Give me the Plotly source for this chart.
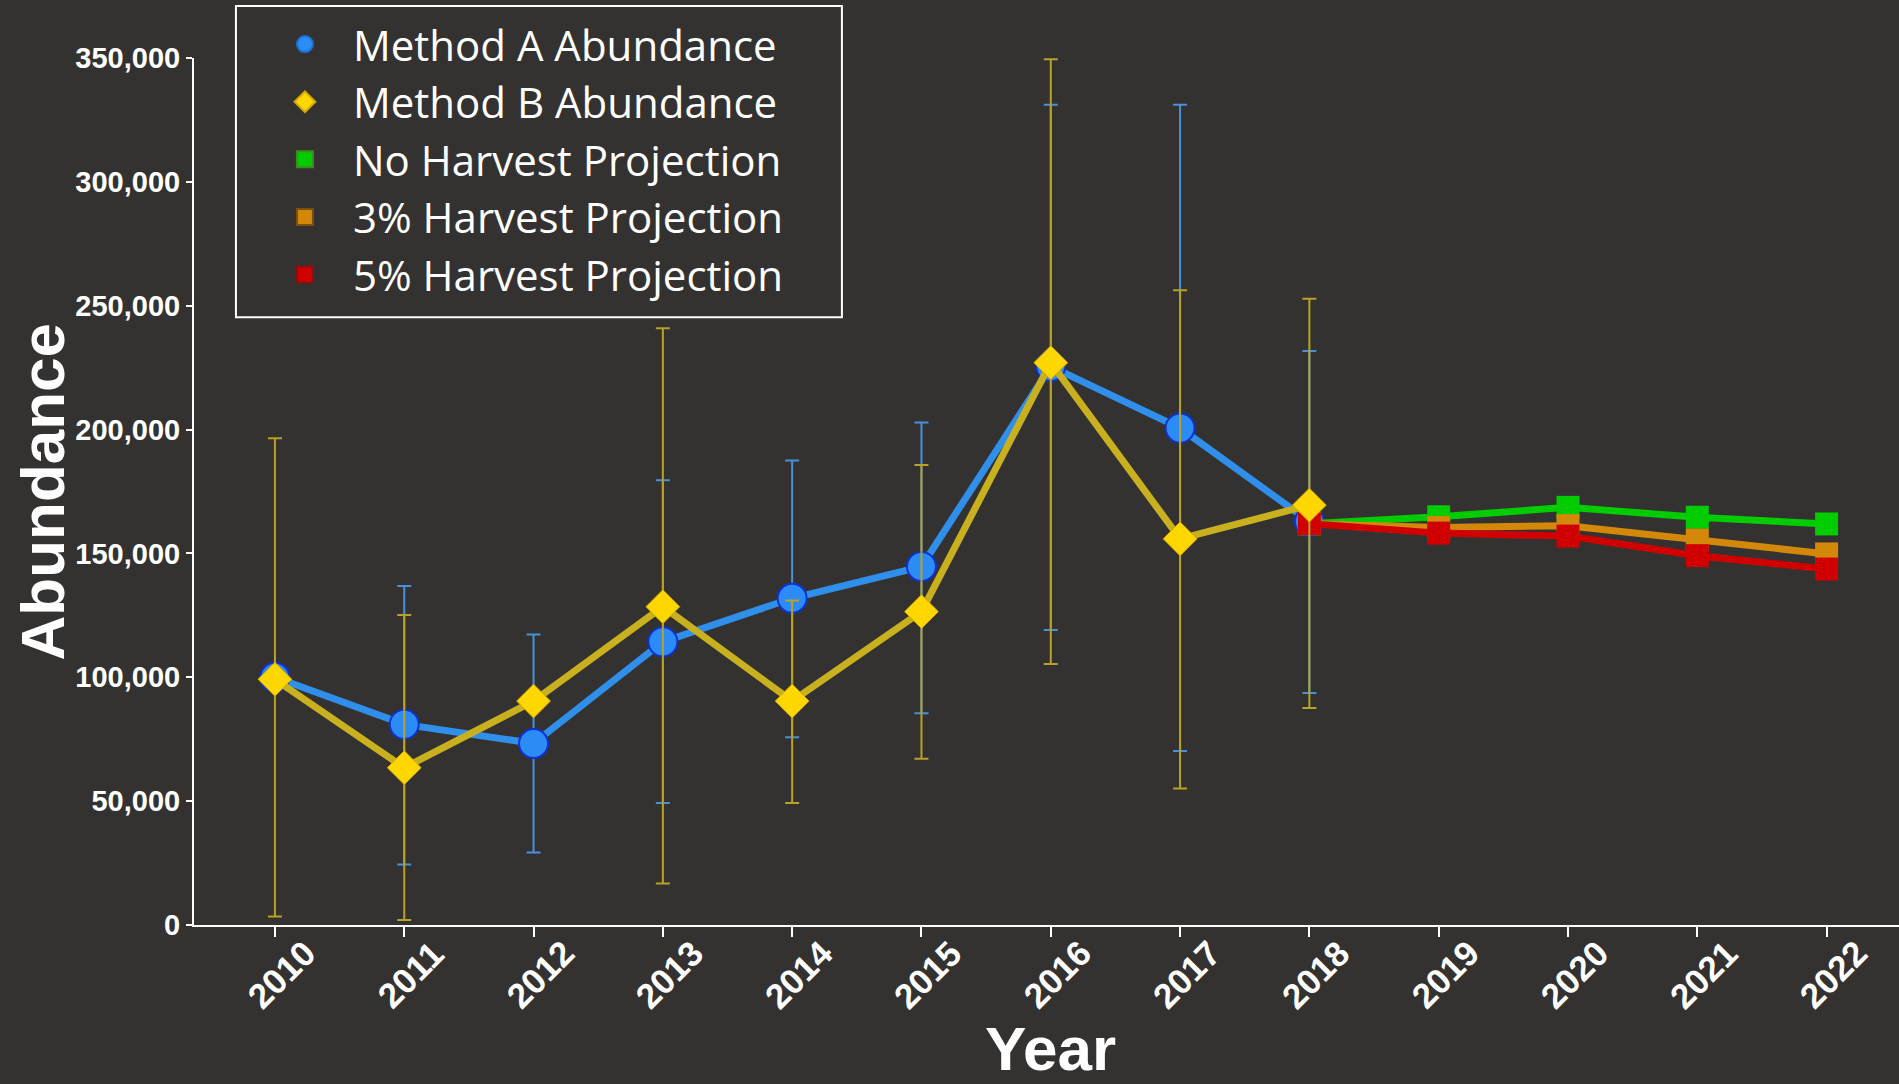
import plotly.graph_objects as go

# --- data ---
years = [2010, 2011, 2012, 2013, 2014, 2015, 2016, 2017, 2018]
proj_years = [2018, 2019, 2020, 2021, 2022]
all_years = years + proj_years[1:]

method_a = [100000, 81000, 73300, 114300, 131900, 144700, 225500, 200600, 162900]
method_a_upper = [100000, 136900, 117300, 179500, 187500, 202900, 331100, 331100, 231700]
method_a_lower = [100000, 24400, 29300, 49200, 75800, 85500, 119100, 70200, 93700]

method_b = [99200, 63500, 90400, 128500, 90400, 126500, 227000, 155900, 169500]
method_b_upper = [196500, 125100, 90400, 240900, 131000, 185700, 349500, 256200, 252800]
method_b_lower = [3400, 2000, 90400, 16800, 49200, 67100, 105400, 55100, 87600]

no_harvest = [162000, 164800, 168600, 164600, 161900]
harvest_3 = [162000, 160500, 161200, 155400, 149800]
harvest_5 = [162000, 158200, 157000, 149100, 143700]

y_ticks = [0, 50000, 100000, 150000, 200000, 250000, 300000, 350000]

BG = '#333231'
TICK_FONT = 'Liberation Sans, Arial, sans-serif'

fig = go.Figure()

# Method A (blue circles)
fig.add_trace(go.Scatter(
    x=years, y=method_a, mode='lines+markers', name='Method A Abundance',
    line=dict(color='#2F8FEA', width=7),
    marker=dict(symbol='circle', size=29, color='#2B8CF5', line=dict(color='#1030D0', width=2)),
    error_y=dict(type='data', symmetric=False,
                 array=[u - v for u, v in zip(method_a_upper, method_a)],
                 arrayminus=[v - l for v, l in zip(method_a, method_a_lower)],
                 color='#4A90D9', thickness=2, width=7),
    showlegend=False, cliponaxis=False,
))

# projections (squares)
proj = [
    ('No Harvest Projection', no_harvest, '#00CC00'),
    ('3% Harvest Projection', harvest_3, '#D4880A'),
    ('5% Harvest Projection', harvest_5, '#D00000'),
]
for name, vals, col in proj:
    fig.add_trace(go.Scatter(
        x=proj_years, y=vals, mode='lines+markers', name=name,
        line=dict(color=col, width=7),
        marker=dict(symbol='square', size=23, color=col),
        showlegend=False, cliponaxis=False,
    ))

# Method B (yellow diamonds) drawn on top
fig.add_trace(go.Scatter(
    x=years, y=method_b, mode='lines+markers', name='Method B Abundance',
    line=dict(color='#C9B01E', width=7),
    marker=dict(symbol='diamond', size=26, color='#FFD700', line=dict(color='#D4A800', width=1)),
    error_y=dict(type='data', symmetric=False,
                 array=[u - v for u, v in zip(method_b_upper, method_b)],
                 arrayminus=[v - l for v, l in zip(method_b, method_b_lower)],
                 color='#B8A228', thickness=2, width=7),
    showlegend=False, cliponaxis=False,
))

# legend entries (markers only, like the original)
legend_items = [
    ('Method A Abundance', 'circle', '#2B8CF5', '#1E70D0'),
    ('Method B Abundance', 'diamond', '#FFD700', '#D4A800'),
    ('No Harvest Projection', 'square', '#00CC00', '#3C8A20'),
    ('3% Harvest Projection', 'square', '#D4880A', '#7A5010'),
    ('5% Harvest Projection', 'square', '#D00000', '#8A1010'),
]
for name, sym, col, edge in legend_items:
    fig.add_trace(go.Scatter(
        x=[None], y=[None], mode='markers', name=name,
        marker=dict(symbol=sym, size=24, color=col, line=dict(color=edge, width=2)),
    ))

# rotated year labels, centred under each tick (as in the original)
year_labels = [
    dict(x=yr, y=0, xref='x', yref='y', text=f'<b>{yr}</b>', showarrow=False,
         textangle=-45, xanchor='center', yanchor='middle', xshift=6, yshift=-49,
         font=dict(size=35, color='white', family=TICK_FONT))
    for yr in all_years
]
x_title = dict(x=0.5, y=0, xref='paper', yref='paper', text='<b>Year</b>', showarrow=False,
               xanchor='center', yanchor='bottom', xshift=4, yshift=-160,
               font=dict(size=62, color='white', family=TICK_FONT))
y_title = dict(x=0, y=0.5, xref='paper', yref='paper', text='<b>Abundance</b>', showarrow=False,
               xanchor='center', yanchor='middle', xshift=-152, textangle=-90,
               font=dict(size=62, color='white', family=TICK_FONT))

fig.update_layout(
    width=1899, height=1084,
    paper_bgcolor=BG, plot_bgcolor=BG,
    margin=dict(l=194, r=0, t=58, b=159),
    font=dict(family=TICK_FONT, color='white'),
    legend=dict(
        x=0.0246, y=1.055, xanchor='left', yanchor='top',
        bgcolor='rgba(0,0,0,0)', borderwidth=0,
        font=dict(family='Open Sans, sans-serif', size=42, color='white'),
        itemwidth=86, indentation=21, tracegroupgap=0,
    ),
    # legend frame
    shapes=[dict(type='rect', xref='paper', yref='paper',
                 x0=0.0246, x1=0.380, y0=0.701, y1=1.060,
                 line=dict(color='white', width=2), fillcolor=BG, layer='below')],
    annotations=year_labels + [x_title, y_title],
)

fig.update_xaxes(
    range=[2009.374, 2022.56],
    tickvals=all_years, showticklabels=False,
    showgrid=False, zeroline=False,
    showline=True, linecolor='white', linewidth=2,
    ticks='outside', tickcolor='white', ticklen=10, tickwidth=2,
)
fig.update_yaxes(
    range=[0, 350000],
    tickvals=y_ticks, tickformat=',',
    tickfont=dict(size=29, color='white', family=TICK_FONT, weight='bold'),
    showgrid=False, zeroline=False,
    showline=True, linecolor='white', linewidth=2,
    ticks='outside', tickcolor='white', ticklen=6, tickwidth=2,
)

fig.write_html("out.html", config={'displayModeBar': False},
               post_script="document.body.style.margin='0';document.body.style.background='#333231';")
